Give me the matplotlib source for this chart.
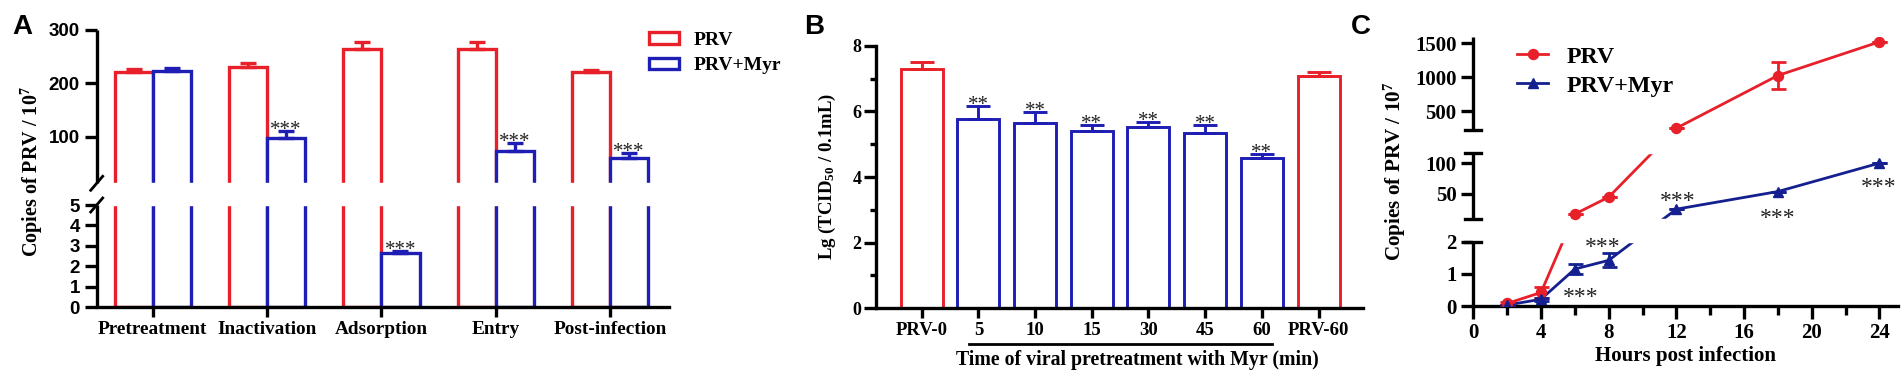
import numpy as np
import matplotlib
matplotlib.use("Agg")
import matplotlib.pyplot as plt
from matplotlib.patches import Patch
from matplotlib.lines import Line2D

W, H = 1904, 371
RED = '#e8202a'
BLUE = '#1e1eb4'
NAVY = '#14208f'
SERIF = 'Liberation Serif'
SANS = 'Liberation Sans'

plt.rcParams['mathtext.fontset'] = 'custom'
plt.rcParams['mathtext.rm'] = 'Liberation Serif:bold'
plt.rcParams['mathtext.it'] = 'Liberation Serif:bold'
plt.rcParams['mathtext.bf'] = 'Liberation Serif:bold'

# panel A data
a_groups = ['Pretreatment', 'Inactivation', 'Adsorption', 'Entry', 'Post-infection']
a_prv = [220.7, 230, 264, 264, 220.7]
a_prv_err = [5.5, 7.5, 13, 13, 5]
a_myr = [222.5, 97, 2.63, 73.7, 60.6]
a_myr_err = [6.5, 14, 0.13, 14, 9]
a_sig = ['', '***', '***', '***', '***']

# panel B data
b_labels = ['PRV-0', '5', '10', '15', '30', '45', '60', 'PRV-60']
b_vals = [7.30, 5.77, 5.64, 5.41, 5.51, 5.34, 4.57, 7.08]
b_err = [0.19, 0.38, 0.34, 0.16, 0.18, 0.23, 0.13, 0.13]
b_sig = ['', '**', '**', '**', '**', '**', '**', '']
b_group = ['PRV', 'Myr', 'Myr', 'Myr', 'Myr', 'Myr', 'Myr', 'PRV']

# panel C data
c_hours = [2, 4, 6, 8, 12, 18, 24]
c_prv = [0.08, 0.42, 17, 44.6, 247, 1026, 1524]
c_prv_err = [0.04, 0.17, 0, 0, 0, 196, 0]
c_myr = [0.03, 0.21, 1.15, 1.42, 25, 53.7, 100]
c_myr_err = [0, 0.04, 0.17, 0.22, 0, 0, 0]
c_sig = ['***', '***', '***', '***', '***']


def px_axes(fig, l, t, r, b):
    return fig.add_axes([l / W, 1 - b / H, (r - l) / W, (b - t) / H])


def broken(ax, vals, pos):
    fwd = lambda v: np.interp(v, vals, pos)
    inv = lambda p: np.interp(p, pos, vals)
    ax.set_yscale('function', functions=(fwd, inv))
    return fwd, inv


def sfont(size, weight='bold'):
    return dict(family=SERIF, size=size, weight=weight)


fig = plt.figure(figsize=(W / 100, H / 100), dpi=100)

# ---------------- A ----------------
ax = px_axes(fig, 96.7, 30, 669.3, 307.3)
fwd, inv = broken(ax, [0, 5, 12.5, 300], [0, 102.3, 124, 277.3])
ax.set_ylim(0, 300)
ax.set_xlim(-0.49, 4.517)
x = np.arange(len(a_groups))
bw = 0.333
ax.bar(x - bw / 2, a_prv, bw, facecolor='white', edgecolor=RED, lw=2.4, zorder=2)
ax.bar(x + bw / 2, a_myr, bw, facecolor='white', edgecolor=BLUE, lw=2.4, zorder=2)
ax.errorbar(x - bw / 2, a_prv, yerr=[np.zeros(5), a_prv_err], fmt='none', ecolor=RED,
            elinewidth=2.4, capsize=6, capthick=2.4, zorder=2.5)
ax.errorbar(x + bw / 2, a_myr, yerr=[np.zeros(5), a_myr_err], fmt='none', ecolor=BLUE,
            elinewidth=2.4, capsize=6, capthick=2.4, zorder=2.5)
ax.axhspan(5, 12.5, color='white', zorder=3)
for i, s in enumerate(a_sig):
    if s:
        ax.annotate(s, (x[i] + bw / 2, a_myr[i] + a_myr_err[i]), xytext=(0, -6.5),
                    textcoords='offset points', ha='center', va='bottom',
                    color='#222222', zorder=6, **sfont(15, 'normal'))
for sp in ['top', 'right', 'left']:
    ax.spines[sp].set_visible(False)
ax.spines['bottom'].set_linewidth(2.4)
yt = ax.get_yaxis_transform()
for lo, hi in [(0, 5), (12.5, 300)]:
    ax.plot([0, 0], [lo, hi], color='k', lw=2.4, transform=yt, clip_on=False, zorder=4,
            solid_capstyle='butt')
dx = 6 / 572.6
for v in [5, 12.5]:
    ax.plot([-dx, dx], [inv(fwd(v) - 7), inv(fwd(v) + 7)], color='k', lw=2.0,
            transform=yt, clip_on=False, zorder=4)
ax.set_yticks([0, 1, 2, 3, 4, 5, 100, 200, 300])
ax.set_yticklabels(['0', '1', '2', '3', '4', '5', '100', '200', '300'],
                   family=SANS, weight='bold', size=13.5)
ax.set_xticks(x)
ax.set_xticklabels(a_groups, **sfont(13.9))
ax.tick_params(axis='y', length=8.6, width=2.4, pad=3.5)
ax.tick_params(axis='x', length=7.2, width=2.4, pad=3)
ax.minorticks_off()
ax.legend(handles=[Patch(facecolor='white', edgecolor=RED, lw=2.4, label='PRV'),
                   Patch(facecolor='white', edgecolor=BLUE, lw=2.4, label='PRV+Myr')],
          loc='upper left', bbox_to_anchor=(649 / W, 1 - 32 / H), bbox_transform=fig.transFigure,
          frameon=False, prop=sfont(14), handlelength=1.56, handleheight=0.52,
          handletextpad=0.73, labelspacing=0.42, borderpad=0, borderaxespad=0)
fig.text(32, H - 171.5, r'Copies of PRV / 10$^{7}$', rotation=90, ha='center', va='center',
         transform=None, **sfont(14.5))
fig.text(22, H - 27, 'A', transform=None, ha='center', va='center', family=SANS,
         weight='bold', size=20)

# ---------------- B ----------------
ax = px_axes(fig, 876, 45.7, 1363.3, 308.3)
ax.set_ylim(0, 8)
ax.set_xlim(-0.806, 7.79)
xb = np.arange(len(b_labels))
cols = [RED if g == 'PRV' else BLUE for g in b_group]
ax.bar(xb, b_vals, 0.741, facecolor='white', edgecolor=cols, lw=2.1, zorder=2)
for i in range(len(xb)):
    ax.errorbar(xb[i], b_vals[i], yerr=[[0], [b_err[i]]], fmt='none', ecolor=cols[i],
                elinewidth=2.1, capsize=8.3, capthick=2.1, zorder=2.5)
    if b_sig[i]:
        ax.annotate(b_sig[i], (xb[i], b_vals[i] + b_err[i]), xytext=(0, -6.5),
                    textcoords='offset points', ha='center', va='bottom',
                    color='#222222', zorder=6, **sfont(15, 'normal'))
for sp in ['top', 'right']:
    ax.spines[sp].set_visible(False)
for sp in ['left', 'bottom']:
    ax.spines[sp].set_linewidth(2.4)
ax.set_yticks([0, 2, 4, 6, 8])
ax.set_yticks([1, 3, 5, 7], minor=True)
ax.set_yticklabels(['0', '2', '4', '6', '8'], **sfont(13))
ax.set_xticks(xb)
ax.set_xticklabels(b_labels, **sfont(13.5))
ax.tick_params(axis='y', which='major', length=9, width=2.4, pad=1.5)
ax.tick_params(axis='y', which='minor', length=4.3, width=2.4)
ax.tick_params(axis='x', length=7.2, width=2.4, pad=3)
xt = ax.get_xaxis_transform()
ax.plot([0.835, 6.18], [-0.136, -0.136], color='k', lw=2.0, transform=xt, clip_on=False)
ax.text(3.81, -0.197, 'Time of viral pretreatment with Myr (min)', transform=xt,
        ha='center', va='center', **sfont(14.3))
fig.text(827, H - 177, r'Lg (TCID$_{50}$ / 0.1mL)', rotation=90, ha='center', va='center',
         transform=None, **sfont(13.5))
fig.text(814, H - 27, 'B', transform=None, ha='center', va='center', family=SANS,
         weight='bold', size=20)

# ---------------- C ----------------
ax = px_axes(fig, 1473.3, 36.7, 1898, 306)
fwd, inv = broken(ax, [0, 2, 8.5, 116, 220, 1600], [0, 64.3, 86.7, 152.7, 176, 269.3])
ax.set_ylim(0, 1600)
ax.set_xlim(0, 25.1)
ax.plot(c_hours, c_prv, color=RED, lw=2.0, zorder=2)
ax.plot(c_hours, c_myr, color=NAVY, lw=2.0, zorder=2)
ax.axhspan(2, 8.5, color='white', zorder=3)
ax.axhspan(116, 220, color='white', zorder=3)
ax.errorbar(c_hours, c_prv, yerr=c_prv_err, fmt='o', color=RED, ms=7.2, elinewidth=2.0,
            capsize=5.4, capthick=2.0, zorder=4)
ax.errorbar(c_hours, c_myr, yerr=c_myr_err, fmt='^', color=NAVY, ms=6.5, elinewidth=2.0,
            capsize=5.4, capthick=2.0, zorder=4)
star_at = [(6.37, 0.26), (7.62, 1.83), (12.07, 37.8), (17.96, 9.6), (23.94, 60.1)]
for s, (hx, hy) in zip(c_sig, star_at):
    ax.text(hx, hy, s, ha='center', va='center', color='#222222', zorder=6,
            **sfont(17, 'normal'))
for sp in ['top', 'right', 'left']:
    ax.spines[sp].set_visible(False)
ax.spines['bottom'].set_linewidth(2.4)
yt = ax.get_yaxis_transform()
for lo, hi in [(0, 2), (8.5, 116), (220, 1600)]:
    ax.plot([0, 0], [lo, hi], color='k', lw=2.4, transform=yt, clip_on=False, zorder=4,
            solid_capstyle='butt')
dx = 8 / 424.7
for v in [2, 8.5, 116, 220]:
    ax.plot([-dx, dx], [v, v], color='k', lw=2.4, transform=yt, clip_on=False, zorder=4)
ax.set_yticks([0, 1, 2, 50, 100, 500, 1000, 1500])
ax.set_yticklabels(['0', '1', '2', '50', '100', '500', '1000', '1500'], **sfont(15))
ax.set_xticks(np.arange(0, 25, 4))
ax.set_xticks(np.arange(2, 24, 4), minor=True)
ax.set_xticklabels([str(h) for h in range(0, 25, 4)], **sfont(15))
ax.tick_params(axis='y', which='both', length=8.4, width=2.4, pad=3.6)
ax.tick_params(axis='x', which='major', length=9.4, width=2.4, pad=3)
ax.tick_params(axis='x', which='minor', length=6.5, width=2.4)
ax.yaxis.set_minor_locator(matplotlib.ticker.NullLocator())
ax.set_xlabel('Hours post infection', labelpad=2, **sfont(15))
ax.legend(handles=[Line2D([], [], color=RED, marker='o', ms=7.2, lw=2.0, label='PRV'),
                   Line2D([], [], color=NAVY, marker='^', ms=6.5, lw=2.0, label='PRV+Myr')],
          loc='upper left', bbox_to_anchor=(1517 / W, 1 - 46 / H), bbox_transform=fig.transFigure,
          frameon=False, prop=sfont(17.3), handlelength=1.3, handletextpad=0.78,
          labelspacing=0.3, borderpad=0, borderaxespad=0, numpoints=1)
fig.text(1395, H - 171.5, r'Copies of PRV / 10$^{7}$', rotation=90, ha='center', va='center',
         transform=None, **sfont(15.2))
fig.text(1361, H - 27, 'C', transform=None, ha='center', va='center', family=SANS,
         weight='bold', size=20)

fig.savefig('out.png', dpi=100)
